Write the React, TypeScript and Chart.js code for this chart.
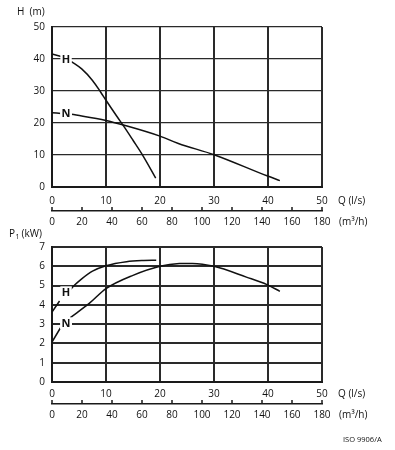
import React, { useEffect, useRef } from "react";
import { Chart, registerables } from "chart.js";

Chart.register(...registerables);

const FONT = '"Open Sans", "Noto Sans", sans-serif';
const AXIS2_COLOR = "#1a1a1a";

// ---- tick labels ----
const flowTicksLs = [0, 10, 20, 30, 40, 50];
const flowTicksM3h = [0, 20, 40, 60, 80, 100, 120, 140, 160, 180];
const headTicks = [0, 10, 20, 30, 40, 50];
const powerTicks = [0, 1, 2, 3, 4, 5, 6, 7];

// ---- head curves (Q l/s, H m); null = gap where the curve label sits ----
const headH_Q = [0, 1.7, 2.6, 3.6, 5.5, 7.5, 9, 10, 12, 13.4, 15, 16.8, 19.2];
const headH_m = [41.6, 40.8, null, 39.2, 36.9, 33.3, 29.7, 27.1, 22.1, 18.7, 14.6, 9.9, 2.8];
const headN_Q = [0, 1.7, 2.6, 3.6, 10, 13.4, 20, 23.4, 30, 39.8, 42.2];
const headN_m = [23.2, 23.0, null, 22.7, 20.8, 19.3, 15.9, 13.6, 10.1, 3.5, 2.0];

// ---- power curves (Q l/s, P1 kW) ----
const powerH_Q = [0, 1.4, 2.5, 3.3, 4.1, 5.5, 7.5, 10, 13.8, 17, 19.3];
const powerH_kW = [3.63, 4.2, null, 4.75, 5.0, 5.35, 5.75, 6.03, 6.24, 6.3, 6.31];
const powerN_Q = [0, 1.55, 2.5, 3.4, 7, 10, 15, 20, 23.6, 26, 30, 36, 39.8, 42.2];
const powerN_kW = [2.07, 2.8, null, 3.34, 4.1, 4.84, 5.53, 6.0, 6.14, 6.15, 6.0, 5.44, 5.05, 4.7];

// ---- curve name labels (data coordinates) ----
const headLabels = [
  { text: "H", q: 2.6, v: 40.0 },
  { text: "N", q: 2.6, v: 23.0 },
];
const powerLabels = [
  { text: "H", q: 2.6, v: 4.65 },
  { text: "N", q: 2.6, v: 3.04 },
];

const pts = (xs: number[], ys: (number | null)[]) => xs.map((x, i) => ({ x, y: ys[i] }));

const decorPlugin = {
  id: "decor",
  afterDatasetsDraw(chart: any, _args: any, opts: any) {
    const { ctx } = chart;
    const xs = chart.scales.x;
    const ys = chart.scales.y;
    ctx.save();
    ctx.font = `bold 11px ${FONT}`;
    ctx.textAlign = "center";
    ctx.textBaseline = "middle";
    for (const l of opts.curveLabels || []) {
      const px = xs.getPixelForValue(l.q);
      const py = ys.getPixelForValue(l.v);
      const w = ctx.measureText(l.text).width;
      ctx.fillStyle = "#fff";
      ctx.fillRect(px - w / 2 - 1.5, py - 6, w + 3, 12);
      ctx.fillStyle = "#111";
      ctx.fillText(l.text, px, py + 0.5);
    }
    ctx.restore();
  },
  afterDraw(chart: any, _args: any, opts: any) {
    const { ctx } = chart;
    const xs = chart.scales.x;
    const x2 = chart.scales.x2;
    const left = chart.chartArea.left;
    const right = chart.chartArea.right;
    const ly = Math.round(xs.bottom + 3);
    ctx.save();
    // secondary flow axis (m³/h): line with upward ticks and labels below
    ctx.fillStyle = AXIS2_COLOR;
    ctx.fillRect(left - 1, ly, right - left + 2, 1.5);
    for (const v of flowTicksM3h) {
      const px = Math.round(x2.getPixelForValue(v));
      ctx.fillRect(px - 0.75, ly - 3, 1.5, 3);
    }
    ctx.fillStyle = "#111";
    ctx.font = `10px ${FONT}`;
    ctx.textAlign = "center";
    ctx.textBaseline = "middle";
    for (const v of flowTicksM3h) {
      ctx.fillText(String(v), x2.getPixelForValue(v), ly + 12.5);
    }
    ctx.textAlign = "left";
    ctx.fillText("(m³/h)", 339, ly + 12.5);
    for (const t of opts.texts || []) {
      ctx.font = `${t.size || 10}px ${FONT}`;
      if (t.sub) {
        ctx.fillText(t.text, t.x, t.y);
        const w = ctx.measureText(t.text).width;
        ctx.font = `7px ${FONT}`;
        ctx.fillText(t.sub, t.x + w + 0.5, t.y + 3);
        const w2 = ctx.measureText(t.sub).width;
        ctx.font = `${t.size || 10}px ${FONT}`;
        ctx.fillText(t.rest, t.x + w + w2 + 2.5, t.y);
      } else {
        ctx.fillText(t.text, t.x, t.y);
      }
    }
    ctx.restore();
  },
};

const tickArr = (arr: number[]) => (s: any) => {
  s.ticks = arr.map((v) => ({ value: v }));
};

function makeConfig(p: any) {
  const tickFont = { family: FONT, size: 10 };
  return {
    type: "line",
    data: {
      datasets: p.series.map((s: any) => ({
        data: s,
        borderColor: "#111",
        borderWidth: 1.5,
        pointRadius: 0,
        fill: false,
        cubicInterpolationMode: "monotone",
        spanGaps: false,
        xAxisID: "x",
        yAxisID: "y",
      })),
    },
    options: {
      animation: false,
      responsive: false,
      maintainAspectRatio: false,
      events: [],
      layout: { padding: { left: 0, right: 73, top: p.padTop, bottom: p.padBottom } },
      plugins: {
        legend: { display: false },
        tooltip: { enabled: false },
        decor: { curveLabels: p.curveLabels, texts: p.texts },
      },
      scales: {
        x: {
          type: "linear",
          position: "bottom",
          min: flowTicksLs[0],
          max: flowTicksLs[flowTicksLs.length - 1],
          afterBuildTicks: tickArr(flowTicksLs),
          afterFit: (s: any) => {
            s.height = p.xHeight;
          },
          grid: { color: "#2a2a2a", lineWidth: 2, drawTicks: false },
          border: { color: "#1a1a1a", width: 2 },
          ticks: { font: tickFont, color: "#111", padding: p.xPad, maxRotation: 0, autoSkip: false },
        },
        x2: {
          type: "linear",
          position: "bottom",
          min: flowTicksM3h[0],
          max: flowTicksM3h[flowTicksM3h.length - 1],
          afterFit: (s: any) => {
            s.height = p.x2Height;
          },
          grid: { display: false },
          border: { display: false },
          ticks: { display: false },
        },
        y: {
          type: "linear",
          min: p.yTicks[0],
          max: p.yTicks[p.yTicks.length - 1],
          afterBuildTicks: tickArr(p.yTicks),
          afterFit: (s: any) => {
            s.width = 52;
          },
          grid: { color: "#2a2a2a", lineWidth: p.yGridWidth, drawTicks: false },
          border: { color: "#1a1a1a", width: 2 },
          ticks: { font: tickFont, color: "#111", padding: 7 },
        },
      },
    },
    plugins: [decorPlugin],
  };
}

export default function App() {
  const topRef = useRef<HTMLCanvasElement>(null);
  const botRef = useRef<HTMLCanvasElement>(null);

  useEffect(() => {
    const top = new Chart(
      topRef.current as HTMLCanvasElement,
      makeConfig({
        series: [pts(headH_Q, headH_m), pts(headN_Q, headN_m)],
        yTicks: headTicks,
        padTop: 27,
        padBottom: 3,
        xHeight: 20,
        x2Height: 18,
        xPad: 8,
        yGridWidth: 1.2,
        curveLabels: headLabels,
        texts: [
          { text: "H  (m)", x: 17, y: 12 },
          { text: "Q (l/s)", x: 338, y: 201 },
        ],
      }) as any
    );
    const bot = new Chart(
      botRef.current as HTMLCanvasElement,
      makeConfig({
        series: [pts(powerH_Q, powerH_kW), pts(powerN_Q, powerN_kW)],
        yTicks: powerTicks,
        padTop: 19,
        padBottom: 10,
        xHeight: 18,
        x2Height: 40,
        xPad: 6,
        yGridWidth: 2,
        curveLabels: powerLabels,
        texts: [
          { text: "P", sub: "1", rest: "(kW)", x: 9, y: 6 },
          { text: "Q (l/s)", x: 338, y: 166.5 },
          { text: "ISO 9906/A", x: 343, y: 211.5, size: 7.5 },
        ],
      }) as any
    );
    return () => {
      top.destroy();
      bot.destroy();
    };
  }, []);

  return (
    <div style={{ position: "absolute", left: 0, top: 0, width: 395, height: 450, background: "#fff" }}>
      <canvas ref={topRef} width={395} height={228} style={{ position: "absolute", left: 0, top: 0, width: 395, height: 228 }} />
      <canvas ref={botRef} width={395} height={222} style={{ position: "absolute", left: 0, top: 228, width: 395, height: 222 }} />
    </div>
  );
}
